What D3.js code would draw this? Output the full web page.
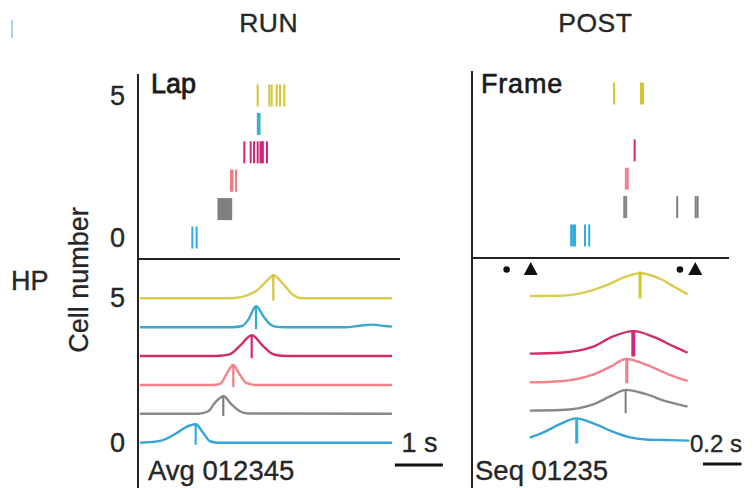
<!DOCTYPE html>
<html><head><meta charset="utf-8">
<script src="https://cdn.jsdelivr.net/npm/d3@7"></script>
<style>body{margin:0;background:#fff}svg{display:block}text{font-family:"Liberation Sans",Arial,sans-serif;fill:#262626;stroke:#262626;stroke-width:0.35px}</style>
</head><body><svg id="c" width="756" height="488"></svg>
<script>
// ---------- data ----------
const cells = [0,1,2,3,4,5];
const cellColors = ["#2eaedc","#7f7f7f","#f07c84","#d3287a","#33acd3","#d5c431"];
const curveColors = ["#38a4d6","#888888","#f2838a","#d22c6a","#3aa7cf","#d7cd52"];
const yTickValues = [0,5];

// RUN raster: spike times (s) per cell
const runSpikes = [
  [1.09,1.18],
  [1.635,1.66,1.69,1.72,1.75,1.78,1.81,1.84,1.87,1.9],
  [1.896,1.93,2.0],
  [2.173,2.306,2.375,2.452,2.51,2.535,2.56,2.646],
  [2.455,2.49],
  [2.452,2.694,2.744,2.848,2.917,3.006]
];
// POST raster: spike times (s) per cell
const postSpikes = [
  [0.515,0.525,0.535,0.587,0.609],
  [0.791,0.801,1.066,1.162,1.172],
  [0.799,0.809],
  [0.845],
  [],
  [0.738,0.878,0.888]
];
// RUN averaged rate curves: [time s, normalized height]
const runCurves = [
  [[0,0],[0.21,0.02],[0.48,0.09],[0.76,0.33],[0.97,0.55],[1.16,0.64],[1.32,0.33],[1.46,0.05],[1.63,0],[5.25,0]],
  [[0,0],[1.21,0],[1.42,0.09],[1.56,0.38],[1.74,0.61],[1.91,0.32],[2.08,0.09],[2.25,0.01],[5.25,0]],
  [[0,0],[1.5,0],[1.67,0.04],[1.81,0.4],[1.94,0.69],[2.08,0.35],[2.22,0.06],[2.4,0],[5.25,0]],
  [[0,0],[1.5,0],[1.71,0.02],[1.88,0.07],[2.08,0.35],[2.33,0.72],[2.56,0.35],[2.77,0.07],[2.96,0.01],[3.17,0],[5.25,0]],
  [[0,0],[1.92,0],[2.13,0.04],[2.26,0.27],[2.42,0.73],[2.57,0.38],[2.71,0.1],[2.85,0.01],[3.02,0],[4.27,0],[4.58,0.05],[4.83,0.09],[5.1,0.04],[5.25,0.02]],
  [[0,0],[1.77,0],[2.02,0.02],[2.23,0.1],[2.44,0.28],[2.65,0.62],[2.78,0.8],[2.98,0.5],[3.19,0.12],[3.33,0.01],[3.54,0],[5.25,0]]
];
// RUN peak markers: [time, top, bottom]
const runPeaks = [[1.16,0.66,-0.07],[1.735,0.63,-0.07],[1.944,0.7,-0.07],[2.327,0.72,-0.07],[2.417,0.74,-0.07],[2.777,0.82,-0.08]];
// POST sequence curves (cell 4 absent)
const postCurves = [
  [[0.30,0.08],[0.38,0.29],[0.46,0.56],[0.54,0.75],[0.64,0.55],[0.73,0.29],[0.82,0.09],[0.92,0.01],[1.0,0],[1.13,-0.02]],
  [[0.30,0.02],[0.46,0.04],[0.63,0.24],[0.72,0.52],[0.80,0.74],[0.90,0.6],[1.01,0.34],[1.12,0.16]],
  [[0.30,0],[0.46,0.04],[0.62,0.25],[0.72,0.55],[0.80,0.81],[0.91,0.6],[1.02,0.28],[1.12,0.05]],
  [[0.30,0],[0.46,0.03],[0.63,0.24],[0.73,0.59],[0.84,0.78],[0.94,0.59],[1.05,0.24],[1.12,0.03]],
  null,
  [[0.30,0],[0.46,0.01],[0.6,0.15],[0.7,0.38],[0.8,0.67],[0.87,0.79],[0.98,0.59],[1.05,0.32],[1.12,0.06]]
];
// POST peak markers: [time, top, bottom, width]
const postPeaks = [[0.544,0.75,-0.12,3],[0.798,0.74,-0.07,2],[0.804,0.81,-0.03,3],[0.838,0.8,-0.1,4],null,[0.873,0.85,-0.08,3]];
const postDots = [0.18,1.08];
const postTriangles = [0.305,1.16];
const runScaleBar = [5.31,6.31];   // 1 s
const postScaleBar = [1.2,1.4];    // 0.2 s

// ---------- scales ----------
const svg = d3.select("#c");
const xL = d3.scaleLinear().domain([0,5.25]).range([140,392]);
const xR = d3.scaleLinear().domain([0,1.3]).range([472,722.25]);
const yTopL = d3.scaleLinear().domain([0,5]).range([237.5,95.5]);
const yTopR = d3.scaleLinear().domain([0,5]).range([235.5,93.5]);
const yBotL = d3.scaleLinear().domain([0,5]).range([442.7,298.3]);
const yBotR = d3.scaleLinear().domain([0,5]).range([440,296]);
const tickH = 11;

// faint mark top-left
svg.append("rect").attr("x",11).attr("y",20).attr("width",2).attr("height",18).attr("fill","#a9d2ec");

// titles
svg.append("text").attr("x",268.7).attr("y",31.5).attr("text-anchor","middle").style("font-size","26.5px").style("letter-spacing","0.5px").text("RUN");
svg.append("text").attr("x",595.3).attr("y",31.5).attr("text-anchor","middle").style("font-size","26.5px").style("letter-spacing","0.5px").text("POST");
svg.append("text").attr("x",11).attr("y",290).style("font-size","27px").text("HP");
svg.append("text").attr("transform","translate(88,280) rotate(-90)").attr("text-anchor","middle").style("font-size","27px").text("Cell number");

// axes frames
const ax = svg.append("g").attr("stroke","#222").attr("stroke-width",2);
ax.append("line").attr("x1",138).attr("x2",138).attr("y1",74).attr("y2",488);
ax.append("line").attr("x1",138).attr("x2",400).attr("y1",259).attr("y2",259);
ax.append("line").attr("x1",472).attr("x2",472).attr("y1",71).attr("y2",488);
ax.append("line").attr("x1",472).attr("x2",729).attr("y1",258).attr("y2",258);

// y tick labels via axes
function yAxis(scale){
  const g = svg.append("g").attr("transform","translate(138,0)")
    .call(d3.axisLeft(scale).tickValues(yTickValues).tickSize(0).tickPadding(13).tickFormat(d3.format("d")));
  g.select(".domain").remove();
  g.selectAll("text").style("font-size","27px").attr("fill","#262626").style("font-family","Liberation Sans, Arial, sans-serif");
}
yAxis(yTopL); yAxis(yBotL);

// panel labels
svg.append("text").attr("x",151).attr("y",93.3).style("font-size","27px").style("fill","#1a1a1a").style("stroke","#1a1a1a").style("stroke-width","0.8px").text("Lap");
svg.append("text").attr("x",481).attr("y",93.3).style("font-size","27px").style("fill","#1a1a1a").style("stroke","#1a1a1a").style("stroke-width","0.6px").style("letter-spacing","0.8px").text("Frame");
svg.append("text").attr("x",148).attr("y",480).style("font-size","27.5px").text("Avg 012345");
svg.append("text").attr("x",475).attr("y",480).style("font-size","27.5px").text("Seq 01235");

// rasters
function raster(spikes, x, y){
  const g = svg.append("g");
  spikes.forEach((ts,c)=>{
    g.selectAll(null).data(ts).enter().append("line")
      .attr("x1",d=>x(d)).attr("x2",d=>x(d))
      .attr("y1",y(c)-tickH).attr("y2",y(c)+tickH)
      .attr("stroke",cellColors[c]).attr("stroke-width",2);
  });
}
raster(runSpikes,xL,yTopL);
raster(postSpikes,xR,yTopR);

// curves
function curves(data, peaks, x, y, peakW){
  const g = svg.append("g");
  data.forEach((pts,c)=>{
    if(!pts) return;
    const line = d3.line().x(d=>x(d[0])).y(d=>y(c+d[1])).curve(d3.curveMonotoneX);
    g.append("path").attr("d",line(pts)).attr("fill","none")
      .attr("stroke",curveColors[c]).attr("stroke-width",2.4);
  });
  peaks.forEach((p,c)=>{
    if(!p) return;
    g.append("line").attr("x1",x(p[0])).attr("x2",x(p[0]))
      .attr("y1",y(c+p[1])).attr("y2",y(c+p[2]))
      .attr("stroke",cellColors[c]).attr("stroke-width",p[3]||peakW);
  });
}
curves(runCurves,runPeaks,xL,yBotL,2.2);
curves(postCurves,postPeaks,xR,yBotR,3);

// markers
svg.selectAll(null).data(postDots).enter().append("circle")
  .attr("cx",d=>xR(d)).attr("cy",269.5).attr("r",3.3).attr("fill","#111");
svg.selectAll(null).data(postTriangles).enter().append("path")
  .attr("d",d=>`M${xR(d)-7},275 L${xR(d)+7},275 L${xR(d)},262 Z`).attr("fill","#111");

// scale bars
svg.append("line").attr("x1",xL(runScaleBar[0])).attr("x2",xL(runScaleBar[1])).attr("y1",465).attr("y2",465).attr("stroke","#111").attr("stroke-width",3);
svg.append("text").attr("x",401.5).attr("y",452.3).style("font-size","27px").text("1 s");
svg.append("line").attr("x1",xR(postScaleBar[0])).attr("x2",xR(postScaleBar[1])).attr("y1",464).attr("y2",464).attr("stroke","#111").attr("stroke-width",3);
svg.append("text").attr("x",690).attr("y",451.7).style("font-size","24px").text("0.2 s");
</script></body></html>
